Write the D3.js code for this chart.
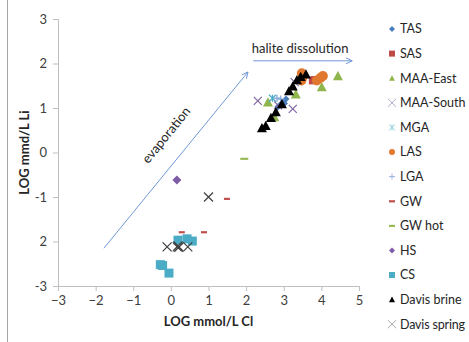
<!DOCTYPE html>
<html>
<head>
<meta charset="utf-8">
<script src="https://cdn.jsdelivr.net/npm/d3@7"></script>
<style>
  html, body { margin: 0; padding: 0; background: #fff; }
  svg { display: block; }
  text { font-family: Lato, "Liberation Sans", sans-serif; }
</style>
</head>
<body>
<div id="chart"></div>
<script>
// Log molality of Cl (x) vs Li (y), by water type
const xTicks = [-3, -2, -1, 0, 1, 2, 3, 4, 5];
const yTicks = [-3, -2, -1, 0, 1, 2, 3];
const yTickLabels = ["-3", "2", "-1", "0", "1", "2", "3"];

const tas = [[2.84, 1.02], [2.90, 1.07], [2.98, 1.13], [3.06, 1.20], [3.02, 1.10]];
const sas = [[3.76, 1.61], [3.80, 1.64]];
const maaEast = [[4.44, 1.72], [4.01, 1.47], [3.32, 1.31], [2.58, 1.13], [2.75, 0.80]];
const maaSouth = [[2.31, 1.16], [3.24, 0.98], [3.29, 1.58], [2.85, 1.06]];
const mga = [[2.70, 1.22]];
const las = [[3.48, 1.78], [3.50, 1.70], [3.47, 1.62], [3.88, 1.62], [3.98, 1.68], [4.04, 1.72]];
const lga = [[2.82, 1.22], [2.92, 1.20]];
const gw = [[1.49, -1.04], [0.29, -1.79], [0.88, -1.79]];
const gwHot = [[1.95, -0.14]];
const hs = [[0.16, -0.62]];
const cs = [[0.19, -1.97], [0.43, -1.94], [0.57, -1.99], [-0.28, -2.52], [-0.22, -2.54], [-0.05, -2.71]];
const davisBrine = [[2.42, 0.55], [2.52, 0.60], [2.66, 0.78], [2.79, 0.91], [2.95, 1.09],
                    [3.14, 1.38], [3.24, 1.49], [3.35, 1.63], [3.45, 1.70], [3.59, 1.76]];
const davisSpring = [[1.0, -1.0], [-0.10, -2.12], [0.17, -2.12], [0.19, -2.10], [0.21, -2.13], [0.45, -2.12]];

const series = [
  { name: "TAS", data: tas, shape: "diamond", color: "#4A7EBB", size: 7, key: "#4A7EBB" },
  { name: "SAS", data: sas, shape: "square", color: "#BE4B48", size: 7, key: "#BE4B48" },
  { name: "MAA-East", data: maaEast, shape: "triangle", color: "#8FB54D", size: 10, key: "#8FB54D" },
  { name: "MAA-South", data: maaSouth, shape: "x", color: "#8064A2", size: 8, key: "#B3A2C7" },
  { name: "MGA", data: mga, shape: "asterisk", color: "#4BACC6", size: 7, key: "#92CDDC" },
  { name: "LAS", data: las, shape: "circle", color: "#E0782F", size: 10, key: "#E0782F" },
  { name: "LGA", data: lga, shape: "plus", color: "#7FA2D8", size: 7, key: "#95B3D7" },
  { name: "GW", data: gw, shape: "dash", color: "#C0504D", size: 6, key: "#C0504D" },
  { name: "GW hot", data: gwHot, shape: "dash", color: "#9BBB59", size: 8, key: "#9BBB59" },
  { name: "HS", data: hs, shape: "diamond", color: "#7D5BA6", size: 9, key: "#7D5BA6" },
  { name: "CS", data: cs, shape: "square", color: "#4BACC6", size: 9, key: "#4BACC6" },
  { name: "Davis brine", data: davisBrine, shape: "triangle", color: "#000000", size: 10, key: "#000000" },
  { name: "Davis spring", data: davisSpring, shape: "x", color: "#404040", size: 9, key: "#A6A6A6" }
];

const W = 469, H = 342;
const svg = d3.select("#chart").append("svg").attr("width", W).attr("height", H);

const x = d3.scaleLinear().domain([-3, 5]).range([58, 359]);
const y = d3.scaleLinear().domain([-3, 3]).range([286, 19]);

// outer frame edge on the left
svg.append("line").attr("x1", 7.5).attr("x2", 7.5).attr("y1", 0).attr("y2", H)
  .attr("stroke", "#a6a6a6").attr("stroke-width", 1);

const axisColor = "#BFBFBF";
const gx = svg.append("g").attr("transform", `translate(0,${y(-3)})`)
  .call(d3.axisBottom(x).tickValues(xTicks).tickFormat(d3.format("d")).tickSize(5).tickPadding(5));
const gy = svg.append("g").attr("transform", `translate(${x(-3)},0)`)
  .call(d3.axisLeft(y).tickValues(yTicks).tickFormat((d, i) => yTickLabels[i]).tickSize(5).tickPadding(6));
[gx, gy].forEach(g => {
  g.select(".domain").attr("stroke", axisColor);
  g.selectAll(".tick line").attr("stroke", axisColor);
  g.selectAll(".tick text").attr("fill", "#404040").style("font-size", "13px")
    .style("font-family", "Lato, 'Liberation Sans', sans-serif");
});

// axis titles
svg.append("text").attr("x", x(1)).attr("y", 326).attr("text-anchor", "middle")
  .style("font-size", "13px").style("font-weight", "bold").attr("fill", "#262626")
  .text("LOG mmol/L Cl");
svg.append("text").attr("transform", `translate(29,${y(0)}) rotate(-90)`).attr("text-anchor", "middle")
  .style("font-size", "13px").style("font-weight", "bold").attr("fill", "#262626")
  .text("LOG mmd/L Li");

// process arrows
const arrowColor = "#6F98D6";
function arrow(x0, y0, x1, y1) {
  const p0 = [x(x0), y(y0)], p1 = [x(x1), y(y1)];
  svg.append("line").attr("x1", p0[0]).attr("y1", p0[1]).attr("x2", p1[0]).attr("y2", p1[1])
    .attr("stroke", arrowColor).attr("stroke-width", 1);
  const a = Math.atan2(p1[1] - p0[1], p1[0] - p0[0]);
  const L = 7, s = 0.45;
  const h1 = [p1[0] - L * Math.cos(a - s), p1[1] - L * Math.sin(a - s)];
  const h2 = [p1[0] - L * Math.cos(a + s), p1[1] - L * Math.sin(a + s)];
  svg.append("path").attr("d", `M${h1}L${p1}L${h2}`).attr("fill", "none")
    .attr("stroke", arrowColor).attr("stroke-width", 1);
}
arrow(-1.78, -2.15, 2.05, 1.81);
arrow(2.19, 2.06, 4.82, 2.06);

svg.append("text").attr("x", x(2.15)).attr("y", 53)
  .style("font-size", "13px").attr("fill", "#262626").text("halite dissolution");
svg.append("text").attr("transform", `translate(${x(-0.03)},${y(0.33)}) rotate(-51)`)
  .attr("text-anchor", "middle")
  .style("font-size", "13px").attr("fill", "#262626").text("evaporation");

// marker drawing
function drawMarker(g, shape, color, s, sw) {
  const h = s / 2;
  if (shape === "diamond") {
    g.append("path").attr("d", `M0,${-h}L${h},0L0,${h}L${-h},0Z`).attr("fill", color);
  } else if (shape === "square") {
    g.append("rect").attr("x", -h).attr("y", -h).attr("width", s).attr("height", s).attr("fill", color);
  } else if (shape === "triangle") {
    g.append("path").attr("d", `M0,${-h}L${h},${h * 0.85}L${-h},${h * 0.85}Z`).attr("fill", color);
  } else if (shape === "circle") {
    g.append("circle").attr("r", h).attr("fill", color);
  } else if (shape === "x") {
    g.append("path").attr("d", `M${-h},${-h}L${h},${h}M${-h},${h}L${h},${-h}`)
      .attr("stroke", color).attr("stroke-width", sw).attr("fill", "none");
  } else if (shape === "plus") {
    g.append("path").attr("d", `M${-h},0L${h},0M0,${-h}L0,${h}`)
      .attr("stroke", color).attr("stroke-width", sw).attr("fill", "none");
  } else if (shape === "asterisk") {
    g.append("path").attr("d", `M${-h},${-h}L${h},${h}M${-h},${h}L${h},${-h}M0,${-h}L0,${h}`)
      .attr("stroke", color).attr("stroke-width", sw).attr("fill", "none");
  } else if (shape === "dash") {
    g.append("rect").attr("x", -h).attr("y", -1).attr("width", s).attr("height", 2.2).attr("fill", color);
  }
}

const plot = svg.append("g");
series.forEach(sr => {
  plot.selectAll(null).data(sr.data).enter().append("g")
    .attr("transform", d => `translate(${x(d[0])},${y(d[1])})`)
    .each(function () { drawMarker(d3.select(this), sr.shape, sr.color, sr.size, 1.2); });
});

// legend
const legend = svg.append("g");
series.forEach((sr, i) => {
  const ly = 29 + i * 24.6;
  const g = legend.append("g").attr("transform", `translate(392,${ly})`);
  drawMarker(g, sr.shape, sr.key, sr.shape === "x" ? 8 : 6, 1);
  legend.append("text").attr("x", 400).attr("y", ly).attr("dy", "0.35em")
    .style("font-size", "12.5px").attr("fill", "#262626")
    .attr("textLength", sr.name === "Davis spring" ? 65 : null)
    .text(sr.name);
});
</script>
</body>
</html>
